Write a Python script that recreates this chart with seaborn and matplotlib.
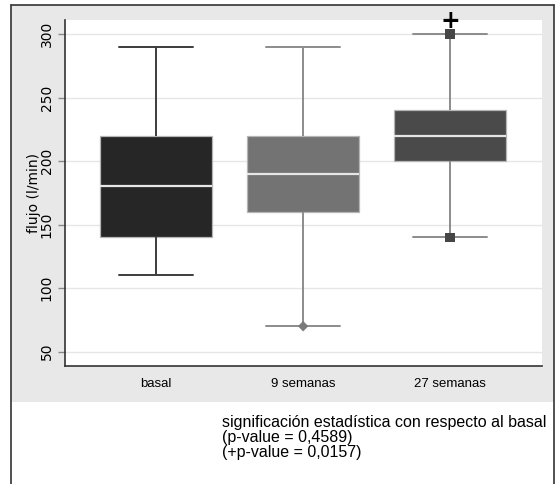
import pandas as pd
import matplotlib.pyplot as plt
import seaborn as sns
from matplotlib.patches import Rectangle
from matplotlib.lines import Line2D

# Datos (flujo en l/min)
grupos = ["basal", "9 semanas", "27 semanas"]
minimo = [110, 70, 140]
q1 = [140, 160, 200]
mediana = [180, 190, 220]
q3 = [220, 220, 240]
maximo = [290, 290, 300]

colores_caja = ["#262626", "#737373", "#4a4a4a"]
colores_linea = ["#3c3c3c", "#8c8c8c", "#8c8c8c"]

nota = [
    "significación estadística con respecto al basal",
    "(p-value = 0,4589)",
    "(+p-value = 0,0157)",
]

# Tabla larga con los cinco valores de cada grupo
filas = []
for i, g in enumerate(grupos):
    for v in [minimo[i], q1[i], mediana[i], q3[i], maximo[i]]:
        filas.append({"grupo": g, "flujo": v})
df = pd.DataFrame(filas)

sns.set_style("white")
plt.rcParams["font.family"] = ["DejaVu Sans"]

W, H = 557, 484
fig = plt.figure(figsize=(W / 100, H / 100), dpi=100)
fig.patch.set_facecolor("white")

# Fondo gris y marco
fig.patches.append(Rectangle((11 / W, 1 - 402 / H), (554 - 11) / W, (402 - 5) / H,
                             transform=fig.transFigure, facecolor="#e8e8e8",
                             edgecolor="none", zorder=-2))
for xs, ys in [([11, 554], [5, 5]), ([11, 11], [5, 484]), ([554, 554], [5, 484])]:
    fig.lines.append(Line2D([x / W for x in xs], [1 - y / H for y in ys],
                            transform=fig.transFigure, color="#333333", lw=1.2,
                            zorder=-1))

ax = fig.add_axes([65 / W, 1 - 366 / H, (542 - 65) / W, (366 - 20) / H])
ax.set_facecolor("white")

for i, g in enumerate(grupos):
    sns.boxplot(
        data=df[df["grupo"] == g], x="grupo", y="flujo", order=grupos,
        color=colores_caja[i], linecolor=colores_linea[i], width=0.76,
        whis=(0, 100), showfliers=False, capwidths=0.5, ax=ax,
        boxprops=dict(edgecolor="#b5b5b5", linewidth=0.9),
        medianprops=dict(color="#e6e6e6", linewidth=1.6),
        whiskerprops=dict(linewidth=1.4),
        capprops=dict(linewidth=1.4),
    )

# Marcadores en los extremos de los bigotes
ext = pd.DataFrame({
    "grupo": [grupos[1], grupos[2], grupos[2]],
    "flujo": [minimo[1], minimo[2], maximo[2]],
})
sns.scatterplot(data=ext.iloc[:1], x="grupo", y="flujo", marker="D", s=28,
                color="#7a7a7a", edgecolor="none", ax=ax, zorder=5)
sns.scatterplot(data=ext.iloc[1:], x="grupo", y="flujo", marker="s", s=45,
                color="#464646", edgecolor="none", ax=ax, zorder=5)

ax.annotate("+", xy=(2, maximo[2]), xytext=(0, 9), textcoords="offset points",
            ha="center", va="center", fontsize=17, fontweight="bold",
            color="black", annotation_clip=False)

ax.set_xlim(-0.62, 2.625)
ax.set_ylim(38.7, 311)
ax.set_yticks([50, 100, 150, 200, 250, 300])
ax.yaxis.grid(True, color="#e6e6e6", linewidth=1)
ax.set_axisbelow(True)

for s in ["top", "right"]:
    ax.spines[s].set_visible(False)
for s in ["left", "bottom"]:
    ax.spines[s].set_color("#333333")
    ax.spines[s].set_linewidth(1.2)

ax.tick_params(axis="y", left=True, length=5, width=1, color="#888888",
               pad=3, labelsize=10, labelrotation=90, labelcolor="black")
for t in ax.get_yticklabels():
    t.set_va("center")
ax.tick_params(axis="x", bottom=False, pad=5, labelcolor="black")
ax.set_xticks(range(len(grupos)))
ax.set_xticklabels(grupos, family="Liberation Sans", fontsize=9.5)

ax.set_xlabel("")
ax.set_ylabel("flujo (l/min)", fontsize=10, labelpad=-1, color="black")

for y, linea in zip([422, 437.5, 453], nota):
    fig.text(222 / W, 1 - y / H, linea, ha="left", va="center",
             family="Liberation Sans", fontsize=11.5, color="black")

fig.savefig("out.png", dpi=100)
